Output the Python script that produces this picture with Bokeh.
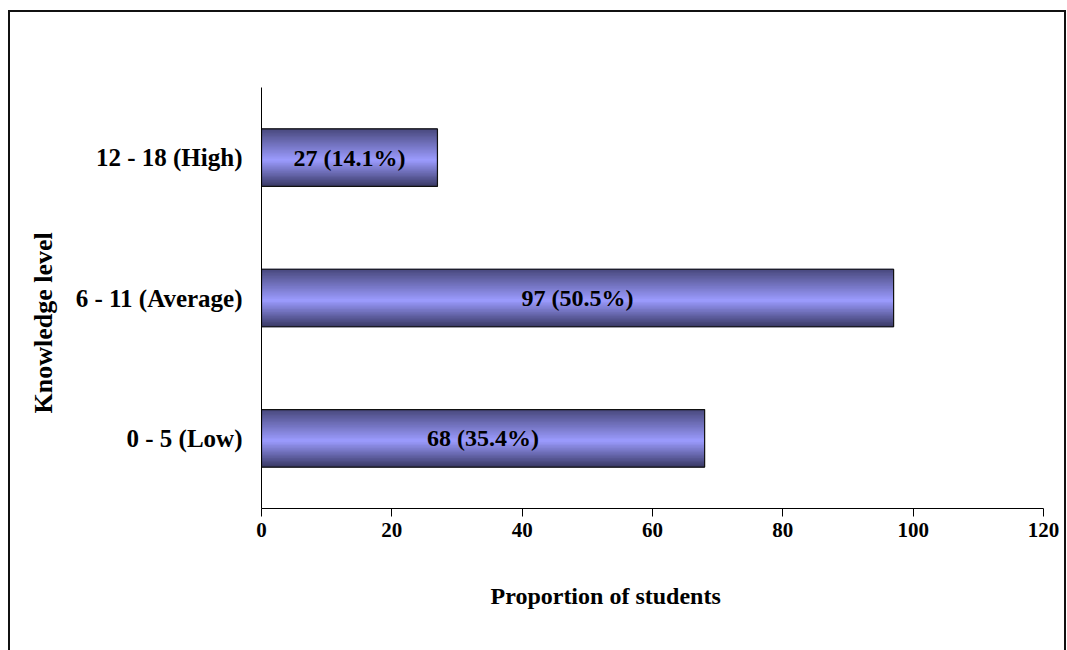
from bokeh.plotting import figure
from bokeh.models import Range1d, FixedTicker, ColumnDataSource, Title
from bokeh.embed import file_html
from bokeh.resources import INLINE
from bokeh.core.properties import value

categories = ["0 - 5 (Low)", "6 - 11 (Average)", "12 - 18 (High)"]
counts = [68, 97, 27]
bar_labels = ["68 (35.4%)", "97 (50.5%)", "27 (14.1%)"]
x_ticks = [0, 20, 40, 60, 80, 100, 120]
x_title = "Proportion of students"
y_title = "Knowledge level"

FONT = "Liberation Serif"
BAR_H = 0.41

p = figure(width=1058, height=640, output_backend="svg", toolbar_location=None,
           x_range=Range1d(0, 120), y_range=Range1d(0, len(categories)),
           min_border_left=251, min_border_right=25, min_border_top=75, min_border_bottom=144)
p.margin = (10, 0, 0, 8)
p.styles = {"border-top": "2px solid #111", "border-left": "2px solid #111", "border-right": "2px solid #111"}
p.outline_line_color = None
p.xgrid.visible = False
p.ygrid.visible = False
p.background_fill_color = "white"
p.border_fill_color = "white"

ys = [i + 0.5 for i in range(len(categories))]

# gradient stripes
N = 40
dark_top = (0x48, 0x48, 0x7c)
dark_bot = (0x3a, 0x3a, 0x66)
light = (0x9c, 0x9c, 0xff)
for k in range(N):
    t = (k + 0.5) / N  # 0 top -> 1 bottom
    if t < 0.55:
        f = t / 0.55
        c = tuple(int(dark_top[j] + (light[j] - dark_top[j]) * f) for j in range(3))
    else:
        f = (t - 0.55) / 0.45
        c = tuple(int(light[j] + (dark_bot[j] - light[j]) * f) for j in range(3))
    col = "#%02x%02x%02x" % c
    off = BAR_H / 2 - (k + 0.5) * BAR_H / N
    p.hbar(y=[y + off for y in ys], right=counts, left=0, height=BAR_H / N * 1.6,
           fill_color=col, line_color=None)

p.hbar(y=ys, right=counts, left=0, height=BAR_H, fill_color=None,
       line_color="#111111", line_width=1.2)

src = ColumnDataSource(dict(x=[c / 2 for c in counts], y=ys, t=bar_labels))
p.text(x="x", y="y", text="t", source=src, text_align="center", text_baseline="middle",
       text_font=value(FONT), text_font_style="bold", text_font_size="24px", text_color="black")

p.xaxis.ticker = FixedTicker(ticks=x_ticks)
p.xaxis.minor_tick_line_color = None
p.xaxis.major_tick_in = 0
p.xaxis.major_tick_out = 8
p.xaxis.axis_line_color = "black"
p.xaxis.major_tick_line_color = "black"
p.xaxis.major_label_text_font = FONT
p.xaxis.major_label_text_font_style = "bold"
p.xaxis.major_label_text_font_size = "21px"
p.xaxis.major_label_text_color = "black"
p.xaxis.major_label_standoff = 6

p.yaxis.ticker = FixedTicker(ticks=ys)
p.yaxis.major_label_overrides = {y: c for y, c in zip(ys, categories)}
p.yaxis.minor_tick_line_color = None
p.yaxis.major_tick_line_color = None
p.yaxis.axis_line_color = "black"
p.yaxis.major_label_text_font = FONT
p.yaxis.major_label_text_font_style = "bold"
p.yaxis.major_label_text_font_size = "25px"
p.yaxis.major_label_text_color = "black"
p.yaxis.major_label_standoff = 13

xt = Title(text=x_title, align="left", offset=229, standoff=82,
           text_font=FONT, text_font_style="bold", text_font_size="24px", text_color="black")
p.add_layout(xt, "below")
yt = Title(text=y_title, align="left", offset=95, standoff=30,
           text_font=FONT, text_font_style="bold", text_font_size="26px", text_color="black")
p.add_layout(yt, "left")

open("out.html", "w").write(file_html(p, INLINE))
